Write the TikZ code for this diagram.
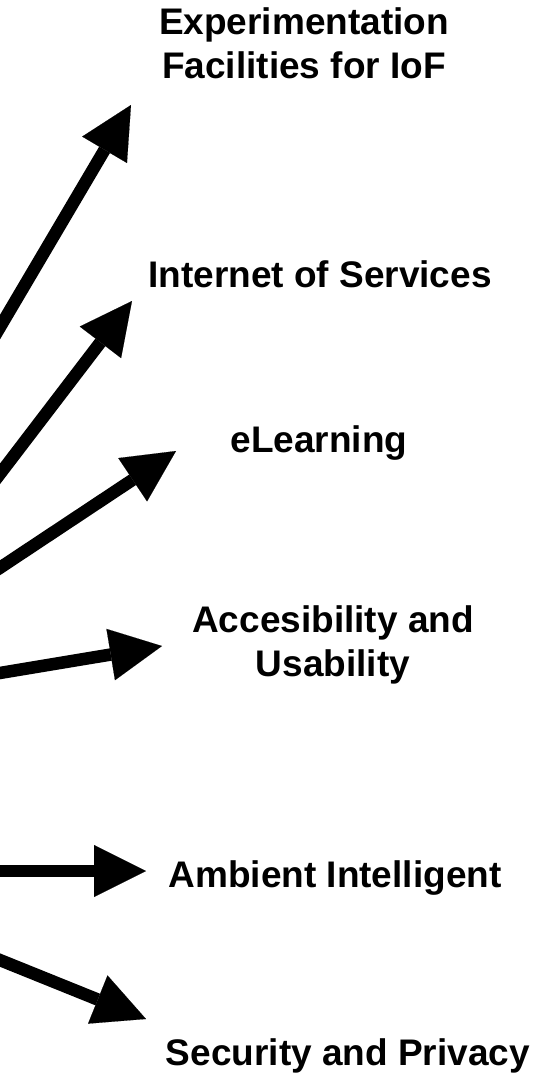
\documentclass[tikz,border=0pt]{standalone}
\usepackage{fontspec}
\setmainfont{Liberation Sans}
\usetikzlibrary{arrows.meta}
\begin{document}
\begin{tikzpicture}[x=1pt,y=-1pt,
  bigarrow/.style={line width=12.5pt, -{Triangle[length=52pt,width=52pt,line width=0.1pt]}},
  lbl/.style={font=\fontsize{37}{44}\selectfont\bfseries, align=center, inner sep=0pt, anchor=base}]
\useasboundingbox (0,0) rectangle (539,1080);
\clip (0,0) rectangle (539,1080);
\fill[white] (0,0) rectangle (539,1080);
% arrow start points (off canvas) and tips
\coordinate (s1) at (-20,361);   \coordinate (t1) at (131,105);
\coordinate (s2) at (-20,500);   \coordinate (t2) at (132,301);
\coordinate (s3) at (-20,581);   \coordinate (t3) at (176,451);
\coordinate (s4) at (-20,676.3); \coordinate (t4) at (162,646);
\coordinate (s5) at (-20,871);   \coordinate (t5) at (146,871);
\coordinate (s6) at (-20,952);   \coordinate (t6) at (146,1019);
\draw[bigarrow] (s1) -- (t1);
\draw[bigarrow] (s2) -- (t2);
\draw[bigarrow] (s3) -- (t3);
\draw[bigarrow] (s4) -- (t4);
\draw[bigarrow] (s5) -- (t5);
\draw[bigarrow] (s6) -- (t6);
% labels (multi-line nodes: base = baseline of the last line)
\node[lbl] (exp) at (304,78)   {Experimentation\\Facilities for IoF};
\node[lbl] (ios) at (320,287)  {Internet of Services};
\node[lbl] (elr) at (319,452)  {eLearning};
\node[lbl] (acc) at (333,676)  {Accesibility and\\Usability};
\node[lbl] (amb) at (335,887)  {Ambient Intelligent};
\node[lbl] (sec) at (348,1065) {Security and Privacy};
\end{tikzpicture}
\end{document}
